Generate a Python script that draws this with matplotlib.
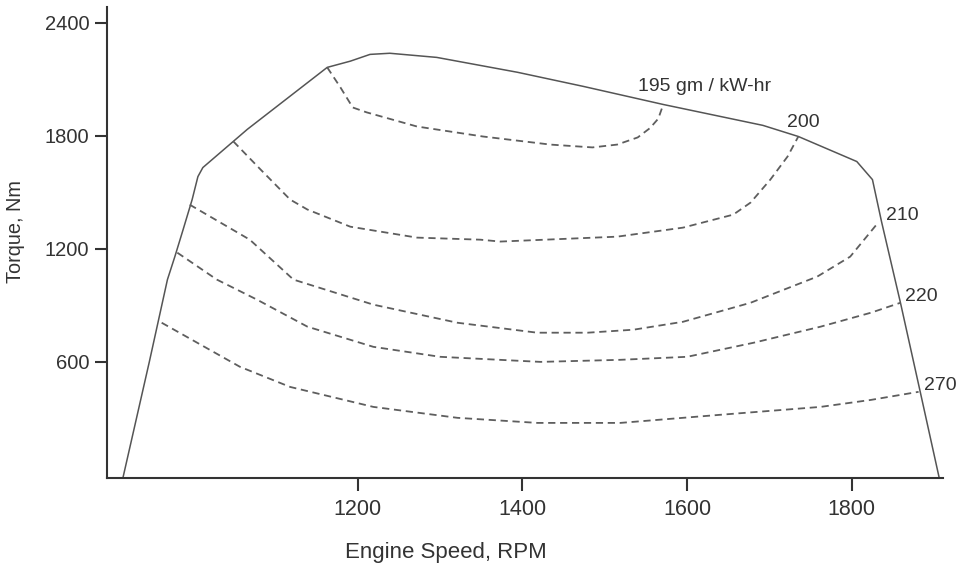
import matplotlib
matplotlib.use("Agg")
import matplotlib.pyplot as plt

plt.rcParams["font.family"] = ["Liberation Sans", "DejaVu Sans"]

# full load torque curve (envelope)
env_rpm = [915, 947, 969, 978, 988, 999, 1006, 1012, 1049, 1066, 1163, 1191, 1215, 1239,
           1296, 1394, 1474, 1571, 1692, 1735, 1806, 1825, 1836, 1859, 1883, 1906]
env_torque = [-17, 598, 1035, 1157, 1300, 1460, 1582, 1630, 1769, 1833, 2162, 2195, 2231, 2237,
              2215, 2136, 2061, 1965, 1854, 1795, 1662, 1566, 1343, 912, 439, -17]

# BSFC contour lines, gm / kW-hr
bsfc_195_rpm = [1163, 1179, 1194, 1211, 1272, 1352, 1434, 1485, 1515, 1540, 1555, 1565, 1571]
bsfc_195_torque = [2162, 2056, 1949, 1923, 1848, 1795, 1752, 1737, 1752, 1790, 1840, 1890, 1965]

bsfc_200_rpm = [1049, 1082, 1118, 1139, 1191, 1272, 1349, 1373, 1515, 1595, 1656, 1677, 1701, 1722, 1735]
bsfc_200_torque = [1769, 1620, 1460, 1407, 1316, 1258, 1247, 1237, 1263, 1311, 1380, 1444, 1566, 1689, 1795]

bsfc_210_rpm = [996, 1069, 1122, 1219, 1321, 1418, 1479, 1535, 1595, 1677, 1758, 1798, 1832]
bsfc_210_torque = [1433, 1247, 1035, 902, 806, 753, 753, 769, 811, 912, 1051, 1157, 1338]

bsfc_220_rpm = [981, 1029, 1078, 1139, 1219, 1300, 1422, 1519, 1600, 1681, 1762, 1823, 1859]
bsfc_220_torque = [1178, 1035, 928, 785, 678, 625, 598, 609, 625, 700, 785, 859, 912]

bsfc_270_rpm = [962, 1057, 1118, 1219, 1321, 1418, 1519, 1640, 1762, 1823, 1881]
bsfc_270_torque = [806, 572, 465, 359, 301, 274, 274, 317, 359, 396, 439]

contours = [
    (bsfc_195_rpm, bsfc_195_torque),
    (bsfc_200_rpm, bsfc_200_torque),
    (bsfc_210_rpm, bsfc_210_torque),
    (bsfc_220_rpm, bsfc_220_torque),
    (bsfc_270_rpm, bsfc_270_torque),
]

# label text and where it sits (rpm, torque)
labels = ["195 gm / kW-hr", "200", "210", "220", "270"]
label_rpm = [1540, 1721, 1842, 1864, 1887]
label_torque = [2061, 1870, 1375, 944, 471]

x_ticks = [1200, 1400, 1600, 1800]
y_ticks = [600, 1200, 1800, 2400]

fig = plt.figure(figsize=(9.65, 5.67), dpi=100)
ax = fig.add_axes([0.1112, 0.1575, 0.8663, 0.8296])

ax.plot(env_rpm, env_torque, color="#555555", lw=1.1, solid_joinstyle="round")
for rpm, torque in contours:
    ax.plot(rpm, torque, color="#5e5e5e", lw=1.3, dashes=(4, 2.6))

for txt, xr, yt in zip(labels, label_rpm, label_torque):
    ax.text(xr, yt, txt, fontsize=14, color="#333333", va="center", ha="left")

ax.set_xlim(896, 1911)
ax.set_ylim(-17, 2481)
ax.set_xticks(x_ticks)
ax.set_yticks(y_ticks)
ax.tick_params(direction="out", length=9, width=1.5, color="#333333",
               labelsize=14.5, labelcolor="#333333")
ax.tick_params(axis="x", labelsize=15.5, pad=6)
ax.tick_params(axis="y", pad=4)

for side in ["top", "right"]:
    ax.spines[side].set_visible(False)
for side in ["left", "bottom"]:
    ax.spines[side].set_color("#333333")
    ax.spines[side].set_linewidth(1.5)

ax.set_xlabel("Engine Speed, RPM", fontsize=16, color="#333333", va="center")
ax.set_ylabel("Torque, Nm", fontsize=14.3, color="#333333", va="center")
ax.xaxis.set_label_coords(0.405, -0.158)
ax.yaxis.set_label_coords(-0.11, 0.524)

fig.savefig("out.png", dpi=100)
